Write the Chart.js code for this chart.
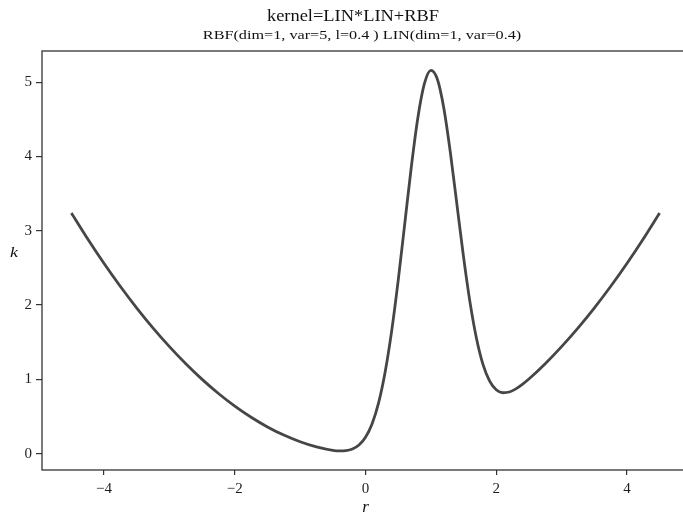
<!DOCTYPE html>
<html>
<head>
  <title>kernel=LIN*LIN+RBF</title>
  <script src="https://cdn.jsdelivr.net/npm/chart.js"></script>
  <style>
    html, body { margin: 0; padding: 0; overflow: hidden; background: #fff; }
    #wrap { width: 689px; height: 518px; }
  </style>
</head>
<body>
  <div id="wrap"><canvas id="kernelChart"></canvas></div>

  <script>
    // values
    const rValues = [-4.5, -4.25, -4.0, -3.75, -3.5, -3.25, -3.0, -2.75, -2.5, -2.25, -2.0, -1.75, -1.5, -1.25, -1.0, -0.75,
      -0.5, -0.4, -0.3, -0.2, -0.1, 0.0, 0.1, 0.2, 0.3, 0.4, 0.5, 0.6, 0.7, 0.8, 0.9, 1.0,
      1.1, 1.2, 1.3, 1.4, 1.5, 1.6, 1.7, 1.8, 1.9, 2.0, 2.1, 2.2, 2.3, 2.4, 2.5, 2.75,
      3.0, 3.25, 3.5, 3.75, 4.0, 4.25, 4.5];
    const kValues = [3.24, 2.89, 2.56, 2.25, 1.96, 1.69, 1.44, 1.21, 1.00, 0.81, 0.64, 0.49, 0.36, 0.25, 0.16, 0.09,
      0.044, 0.037, 0.040, 0.062, 0.116, 0.220, 0.399, 0.683, 1.096, 1.649, 2.329, 3.090, 3.852, 4.515, 4.976, 5.16,
      5.040, 4.643, 4.044, 3.346, 2.649, 2.033, 1.544, 1.195, 0.976, 0.860, 0.820, 0.830, 0.872, 0.933, 1.004, 1.210,
      1.44, 1.69, 1.96, 2.25, 2.56, 2.89, 3.24];
    const xTicks = [-4, -2, 0, 2, 4];
    const yTicks = [0, 1, 2, 3, 4, 5];
    const titleText = 'kernel=LIN*LIN+RBF';
    const subtitleText = 'RBF(dim=1, var=5, l=0.4 ) LIN(dim=1, var=0.4)';

    const serif = "'Liberation Serif', 'DejaVu Serif', serif";
    const axisColor = '#333';

    // the reference type is a bit wide, so the titles get a small horizontal stretch
    function wideText(ctx, text, x, y, font, sx) {
      ctx.save();
      ctx.translate(x, y);
      ctx.scale(sx, 1);
      ctx.font = font;
      ctx.fillText(text, 0, 0);
      ctx.restore();
    }

    // frame box, titles and the upright "k" label
    const frame = {
      id: 'frame',
      afterDraw(chart) {
        const a = chart.chartArea;
        const ctx = chart.ctx;
        ctx.save();
        ctx.strokeStyle = axisColor;
        ctx.lineWidth = 1.3;
        ctx.strokeRect(a.left, a.top, a.right - a.left, a.bottom - a.top);
        ctx.fillStyle = '#111';
        ctx.textAlign = 'center';
        ctx.textBaseline = 'alphabetic';
        wideText(ctx, titleText, 353, 20.5, '16px ' + serif, 1.15);
        wideText(ctx, subtitleText, 362, 39, '13.5px ' + serif, 1.2);
        ctx.textBaseline = 'middle';
        wideText(ctx, 'k', 14, 253, 'italic 15px ' + serif, 1.2);
        ctx.restore();
      }
    };

    const fmt = v => (v < 0 ? '\u2212' + Math.abs(v) : String(v));

    const ctx = document.getElementById('kernelChart').getContext('2d');
    new Chart(ctx, {
      type: 'line',
      data: {
        datasets: [{
          data: rValues.map((r, i) => ({ x: r, y: kValues[i] })),
          borderColor: '#464646',
          borderWidth: 2.8,
          pointRadius: 0,
          fill: false,
          cubicInterpolationMode: 'monotone'
        }]
      },
      plugins: [frame],
      options: {
        responsive: true,
        maintainAspectRatio: false,
        animation: false,
        layout: { padding: { top: 51, right: 0, bottom: 0, left: 0 } },
        plugins: {
          legend: { display: false },
          tooltip: { enabled: false }
        },
        scales: {
          x: {
            type: 'linear',
            min: -4.95,
            max: 4.95,
            afterBuildTicks: s => { s.ticks = xTicks.map(v => ({ value: v })); },
            afterFit: s => { s.height = 48; },
            grid: { display: true, drawOnChartArea: false, drawTicks: true, tickLength: 5, color: axisColor, lineWidth: 1.2 },
            border: { display: false },
            ticks: { color: '#1e1e1e', font: { family: serif, size: 15 }, padding: 5, maxRotation: 0, callback: fmt },
            title: { display: true, text: 'r', color: '#111', font: { family: serif, size: 17, style: 'italic' }, padding: { top: 4, bottom: 0 } }
          },
          y: {
            type: 'linear',
            min: -0.22,
            max: 5.42,
            afterBuildTicks: s => { s.ticks = yTicks.map(v => ({ value: v })); },
            afterFit: s => { s.width = 42; },
            grid: { display: true, drawOnChartArea: false, drawTicks: true, tickLength: 6, color: axisColor, lineWidth: 1.2 },
            border: { display: false },
            ticks: { color: '#1e1e1e', font: { family: serif, size: 15 }, padding: 4, callback: fmt }
          }
        }
      }
    });
  </script>
</body>
</html>
